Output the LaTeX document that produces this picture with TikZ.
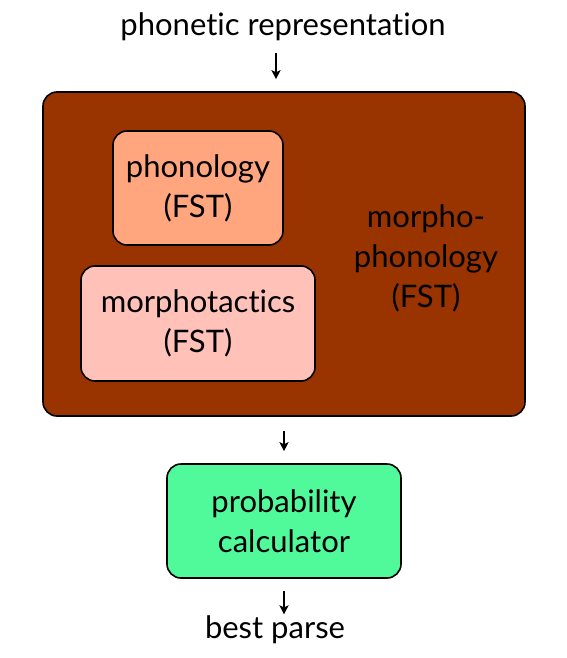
\documentclass[tikz,border=0pt]{standalone}
\usepackage{fontspec}
\setmainfont{Lato}[Ligatures=NoCommon]
\usetikzlibrary{arrows.meta}
\definecolor{brownbox}{RGB}{153,51,0}
\definecolor{phonbox}{RGB}{255,166,126}
\definecolor{tactbox}{RGB}{255,193,184}
\definecolor{probbox}{RGB}{80,250,155}

\begin{document}
\begin{tikzpicture}[x=1pt,y=-1pt,
    every node/.style={font=\fontsize{31}{40}\selectfont,align=center},
    box/.style={draw,line width=1.6pt,rounded corners=14pt,inner sep=0pt},
    flow/.style={line width=1.6pt,-{Stealth[length=9pt,width=9pt,inset=2pt]}}]
  \useasboundingbox (0,0) rectangle (566,658);
  \node (input) at (283,27) {phonetic representation};
  \node[box,fill=brownbox,minimum width=482pt,minimum height=324pt] (morphophon) at (284,254) {};
  \node[box,fill=phonbox,minimum width=170pt,minimum height=114pt] (phon) at (198,188) {phonology\\(FST)};
  \node[box,fill=tactbox,minimum width=234pt,minimum height=115pt] (tact) at (198,323.5) {morphotactics\\(FST)};
  \node (mplabel) at (426,258) {morpho-\\phonology\\(FST)};
  \node[box,fill=probbox,minimum width=234pt,minimum height=114pt] (prob) at (284,521) {probability\\calculator};
  \node (output) at (275,630) {best parse};
  % arrows between the stages
  \draw[flow] ([xshift=-7pt,yshift=-8pt]input.south) -- ([xshift=-8pt,yshift=12pt]morphophon.north);
  \draw[flow] ([yshift=-14pt]morphophon.south) -- ([yshift=12pt]prob.north);
  \draw[flow] ([yshift=-12pt]prob.south) -- ([xshift=9pt,yshift=-2pt]output.north);
\end{tikzpicture}
\end{document}
